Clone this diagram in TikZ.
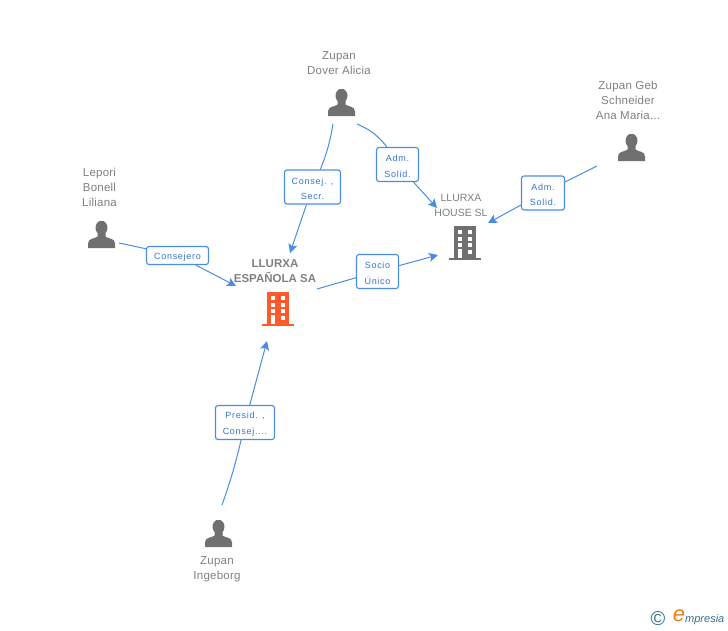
\documentclass[tikz,border=0pt]{standalone}
\usepackage{fontspec}
\setmainfont{Liberation Sans}
\usepackage{tikz}
\usetikzlibrary{arrows.meta}
\definecolor{linkblue}{RGB}{74,140,228}
\definecolor{labelblue}{RGB}{52,116,216}
\definecolor{textgray}{RGB}{128,128,128}
\definecolor{icongray}{RGB}{112,112,112}
\definecolor{iconred}{RGB}{255,90,44}
\definecolor{logoteal}{RGB}{52,112,138}
\definecolor{logoorange}{RGB}{240,128,24}
\newcommand{\personicon}{
  \fill [icongray, shift={(path picture bounding box.center)}] (0,-6.8) ellipse (6 and 7)
    (-4,-2) -- (4,-2) -- (4,2) .. controls (7,4.5) and (13.5,3.5) .. (13.5,9) -- (13.5,13.5) -- (-13.5,13.5) -- (-13.5,9) .. controls (-13.5,3.5) and (-7,4.5) .. (-4,2) -- cycle;
}
\newcommand{\buildingicon}[1]{
  \begin{scope}[shift={(path picture bounding box.center)}]
  \fill [#1] (-11,-17) rectangle (11,14.5);
  \fill [#1] (-16,14.5) rectangle (16,17);
  \foreach \row in {-13,-6.3,0.3} {
    \fill [white] (-7.5,\row) rectangle ++(4.5,4);
  }
  \foreach \row in {-13,-6.3,0.3,7} {
    \fill [white] (2.5,\row) rectangle ++(4.5,4);
  }
  \fill [white] (-7.5,6.3) rectangle (-3,14.5);
  \end{scope}
}
\newcommand{\lift}{\rule{0pt}{10pt}}
\tikzstyle{person} = [rectangle, inner sep=0pt, minimum width=27pt, minimum height=27pt, path picture={\personicon}]
\tikzstyle{building} = [rectangle, inner sep=0pt, minimum width=32pt, minimum height=34pt, path picture={\buildingicon{icongray}}]
\tikzstyle{mainbuilding} = [rectangle, inner sep=0pt, minimum width=32pt, minimum height=34pt, path picture={\buildingicon{iconred}}]
\tikzstyle{caption} = [align=center, text=textgray, inner sep=0pt, font=\fontsize{11.5}{15}\selectfont\addfontfeature{LetterSpace=2}]
\tikzstyle{role} = [rectangle, rounded corners=2.5pt, draw=linkblue, line width=1.1pt, inner sep=0pt, fill=white, align=center, text=labelblue, font=\fontsize{9}{15.5}\selectfont\addfontfeature{LetterSpace=8}]
\tikzstyle{link} = [draw=linkblue, line width=1pt]
\tikzstyle{arrow} = [link,-{Stealth[length=9pt,width=9pt,inset=2pt]}]

\begin{document}
\begin{tikzpicture}[x=1pt,y=-1pt]
\useasboundingbox (0,0) rectangle (728,630);

% people and companies
\node (dover) [person] at (341.5,102.5) {};
\node (dovertext) [caption] at (339,63) {Zupan\\Dover Alicia};
\node (geb) [person] at (631.5,147.5) {};
\node (gebtext) [caption] at (628,100) {Zupan Geb\\Schneider\\Ana Maria...};
\node (lepori) [person] at (101.5,234.5) {};
\node (leporitext) [caption] at (99.5,187) {Lepori\\Bonell\\Liliana};
\node (ingeborg) [person] at (218.5,533.5) {};
\node (ingeborgtext) [caption] at (217,569.5) {Zupan\\Ingeborg};
\node (house) [building] at (465,243) {};
\node (housetext) [caption, font=\fontsize{10.5}{15}\selectfont] at (461,205) {LLURXA\\HOUSE SL};
\node (espanola) [mainbuilding] at (278,309) {};
\node (espanolatext) [caption, font=\fontsize{11.5}{15}\selectfont\bfseries] at (275,271) {LLURXA\\ESPAÑOLA SA};

% free ends of the links
\coordinate (doverA) at (333,124);
\coordinate (doverB) at (357,124);
\coordinate (gebA) at (597,166);
\coordinate (leporiA) at (119,243);
\coordinate (ingeborgA) at (222,505);
\coordinate (espanolaA) at (317,289);
\coordinate (tipA) at (290,253);
\coordinate (tipB) at (437,208);
\coordinate (tipC) at (488,223);
\coordinate (tipD) at (236,286);
\coordinate (tipE) at (438,255);
\coordinate (tipF) at (267,341);

% role boxes
\node (consejsecr) [role, minimum width=56pt, minimum height=34pt] at (312.5,187) {\lift Consej. ,\\Secr.};
\node (admdover) [role, minimum width=42pt, minimum height=34pt] at (397.5,164.5) {\lift Adm.\\Solid.};
\node (admgeb) [role, minimum width=43pt, minimum height=34pt] at (543,193) {\lift Adm.\\Solid.};
\node (consejero) [role, minimum width=62pt, minimum height=18pt] at (177.5,255.5) {\lift Consejero};
\node (socio) [role, minimum width=42pt, minimum height=34pt] at (377.5,271.5) {\lift Socio\\Único};
\node (presid) [role, minimum width=59pt, minimum height=34pt] at (245,422.5) {\lift Presid. ,\\Consej....};

\draw [link] (doverA) to[bend left=6] (consejsecr);
\draw [arrow] (consejsecr) -- (tipA);
\draw [link] (doverB) to[bend left=14] (admdover);
\draw [arrow] (admdover) -- (tipB);
\draw [link] (gebA) -- (admgeb);
\draw [arrow] (admgeb) -- (tipC);
\draw [link] (leporiA) -- (consejero);
\draw [arrow] (consejero) -- (tipD);
\draw [link] (espanolaA) -- (socio);
\draw [arrow] (socio) -- (tipE);
\draw [link] (ingeborgA) to[bend right=3] (presid);
\draw [arrow] (presid) -- (tipF);

% logo
\node (copyright) [inner sep=0pt, text=logoteal, font=\fontsize{20}{20}\selectfont] at (658,619) {\textcopyright};
\node (logoe) [inner sep=0pt, text=logoorange, font=\fontsize{22}{22}\selectfont\itshape] at (679,616) {e};
\node (logotext) [inner sep=0pt, anchor=west, text=logoteal, font=\fontsize{11}{12}\selectfont\itshape] at (685,619.5) {mpresia};

\end{tikzpicture}
\end{document}
